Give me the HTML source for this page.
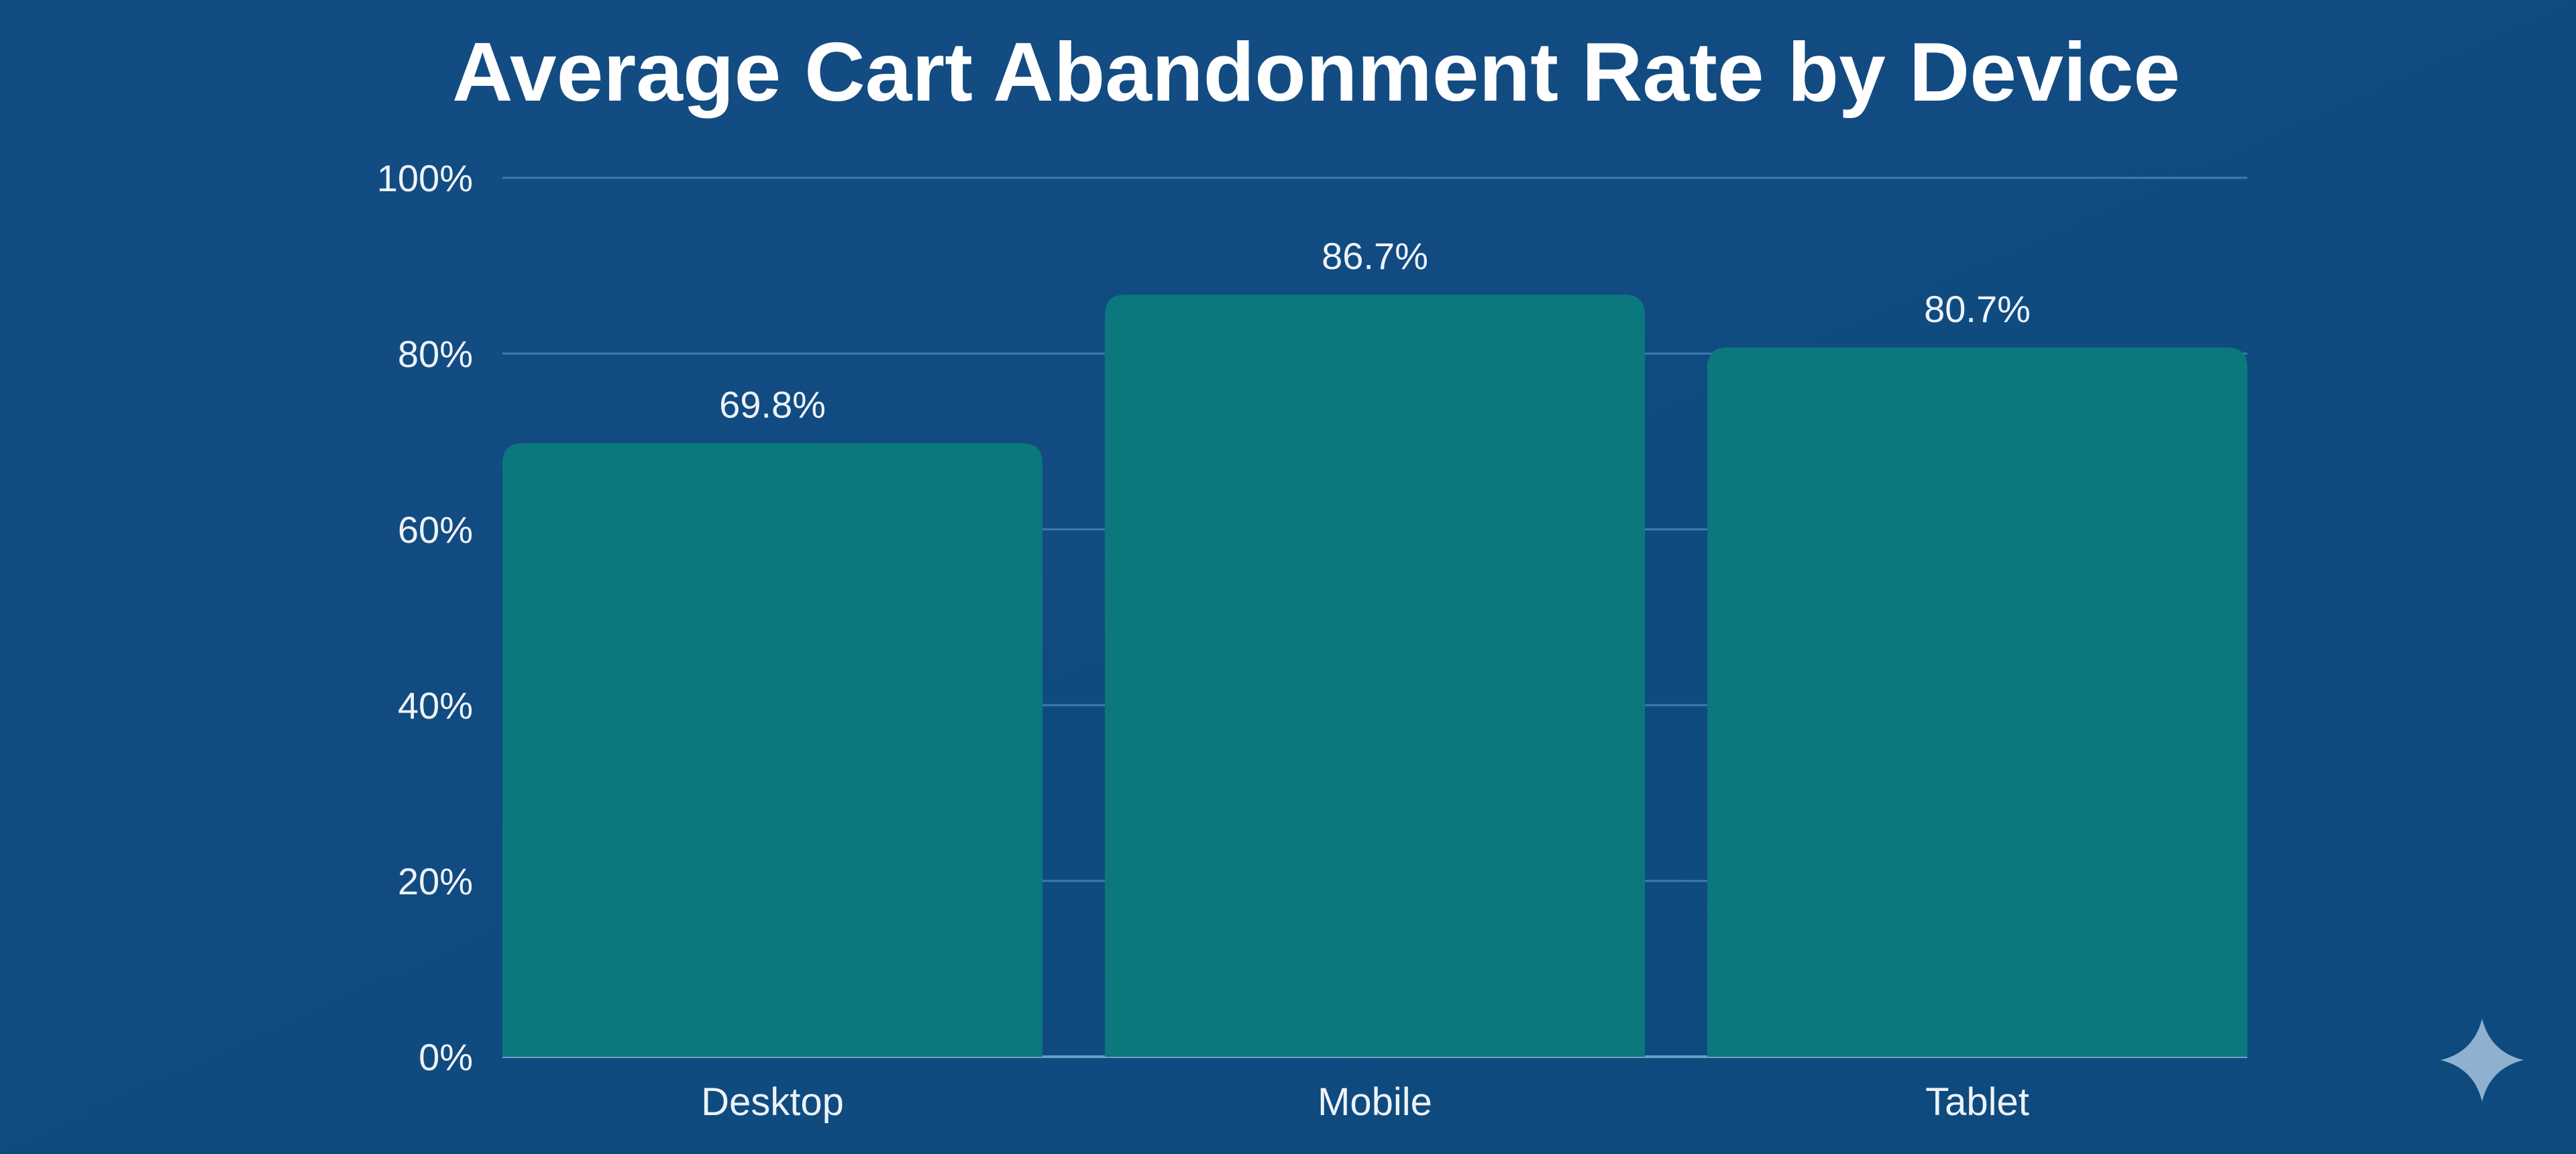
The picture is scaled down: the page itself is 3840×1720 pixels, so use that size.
<!DOCTYPE html>
<html><head><meta charset="utf-8">
<style>
html,body{margin:0;padding:0;width:3840px;height:1720px;overflow:hidden;background:#0f4b80;}
svg{display:block;}
</style></head>
<body>
<svg id="chart" width="3840" height="1720" viewBox="0 0 3840 1720" xmlns="http://www.w3.org/2000/svg">
<defs>
<linearGradient id="bg" x1="0" y1="0" x2="1" y2="1">
<stop offset="0" stop-color="#134c83"/><stop offset="1" stop-color="#0e4a7e"/>
</linearGradient>
</defs>
<rect width="3840" height="1720" fill="url(#bg)"/>
<text x="1962" y="150" text-anchor="middle" textLength="2576" lengthAdjust="spacingAndGlyphs" font-family="Liberation Sans, sans-serif" font-weight="bold" font-size="124" fill="#ffffff">Average Cart Abandonment Rate by Device</text>
<g id="grid"></g>
<g id="bars"></g>
<g id="labels"></g>
<path d="M3700 1518 Q3712 1568 3762 1580 Q3712 1592 3700 1642 Q3688 1592 3638 1580 Q3688 1568 3700 1518 Z" fill="#8fb1cf"/>
</svg>
<script>
const categories = ["Desktop", "Mobile", "Tablet"];
const values = [69.8, 86.7, 80.7];
const valueLabels = ["69.8%", "86.7%", "80.7%"];
const yTicks = [0, 20, 40, 60, 80, 100];
const yTickLabels = ["0%", "20%", "40%", "60%", "80%", "100%"];

const NS = "http://www.w3.org/2000/svg";
const plotL = 749, plotR = 3350, plotTop = 265, plotBot = 1575;
const yMax = 100;
function yScale(v){ return plotBot - (v / yMax) * (plotBot - plotTop); }
const barW = 805;
const gap = ((plotR - plotL) - categories.length * barW) / (categories.length - 1);
function xScale(i){ return plotL + i * (barW + gap); }

const grid = document.getElementById('grid');
const bars = document.getElementById('bars');
const labels = document.getElementById('labels');
function mk(tag, attrs, parent){
  const e = document.createElementNS(NS, tag);
  for (const k in attrs) e.setAttribute(k, attrs[k]);
  parent.appendChild(e);
  return e;
}
yTicks.forEach((t, i) => {
  const y = yScale(t);
  const ln = mk('line', {x1: plotL, x2: plotR, y1: y, y2: y, stroke: t === 0 ? '#6aa0c8' : '#3f7bae', 'stroke-width': t === 0 ? 4 : 3}, grid);
  
  
  const tx = mk('text', {x: 705, y: y + 20, 'text-anchor': 'end', 'font-family': 'Liberation Sans, sans-serif', 'font-size': 56, fill: '#eef3f8'}, labels);
  tx.textContent = yTickLabels[i];
  
  
});
values.forEach((v, i) => {
  const x = xScale(i), y = yScale(v), r = 30;
  const d = `M${x} ${plotBot} L${x} ${y + r} Q${x} ${y} ${x + r} ${y} L${x + barW - r} ${y} Q${x + barW} ${y} ${x + barW} ${y + r} L${x + barW} ${plotBot} Z`;
  const p = mk('path', {d: d, fill: '#0b787e'}, bars);
  
  
  const vl = mk('text', {x: x + barW / 2, y: y - 38, 'text-anchor': 'middle', 'font-family': 'Liberation Sans, sans-serif', 'font-size': 56, fill: '#eef3f8'}, labels);
  vl.textContent = valueLabels[i];
  
  
  const cl = mk('text', {x: x + barW / 2, y: 1662, 'text-anchor': 'middle', 'font-family': 'Liberation Sans, sans-serif', 'font-size': 58, fill: '#eef3f8'}, labels);
  cl.textContent = categories[i];
  
  
});
</script>
</body></html>
